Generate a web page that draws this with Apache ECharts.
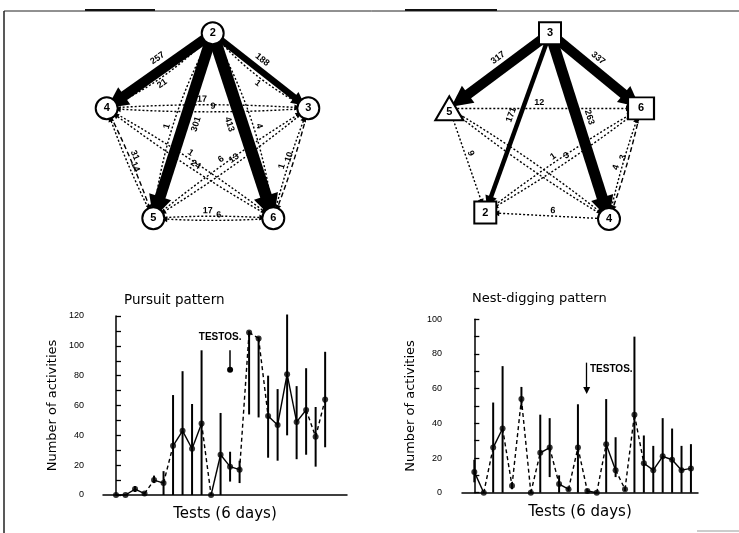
<!DOCTYPE html>
<html><head><meta charset="utf-8">
<script src="https://cdn.jsdelivr.net/npm/echarts@6/dist/echarts.min.js"></script>
<style>html,body{margin:0;padding:0;background:#fff}#c{width:739px;height:533px}</style>
</head><body><div id="c"></div>
<script>
// ---------------- Data ----------------
// Pursuit pattern (left lower chart)
const pursuitMean = [0,0,4,1,10,8,33,43,31,48,0,27,19,17,109,105,53,47,81,49,57,39,64];
const pursuitHigh = [0,0,6,2,13,16,67,83,61,97,0,55,29,23,110,106,80,71,121,73,85,59,96];
const pursuitLow  = [0,0,2,0,8,0,0,0,0,0,0,0,9,8,54,52,25,23,40,24,27,19,32];
// Nest-digging pattern (right lower chart)
const nestMean = [12,0,26,37,4,54,0,23,26,5,2,26,1,0,28,13,2,45,17,13,21,19,13,14];
const nestHigh = [19,0,52,73,6,61,0,45,43,10,3,51,2,0,54,32,3,90,33,27,43,37,27,28];
const nestLow  = [6,0,0,0,2,48,0,0,9,0,1,0,0,0,0,9,1,0,0,0,0,0,0,0];
// y tick labels
const pursuitTicks = [0,20,40,60,80,100,120];
const nestTicks = [0,20,40,60,80,100];
// Network diagrams: [from, to, count]
const pursuitNodes = ['2','4','3','5','6'];
const pursuitFlows = [
  ['2','4',257],['2','3',188],['2','5',301],['2','6',413],
  ['4','2',21],['3','2',1],['4','3',17],['3','4',9],['6','2',4],['5','2',1],
  ['4','6',1],['6','4',24],['3','5',13],['5','3',6],['4','5',31],['5','4',14],
  ['3','6',10],['6','3',1],['5','6',17],['6','5',6]
];
const diggingNodes = ['3','5','6','2','4'];
const diggingFlows = [
  ['3','5',317],['3','6',337],['3','2',171],['3','4',263],
  ['5','6',12],['5','2',9],['2','6',1],['6','2',3],['5','4',null],['4','5',null],
  ['4','6',4],['6','4',3],['4','2',6]
];

// ---------------- Layout / style config ----------------
const pursuitPos = {'2':[212.7,33.3],'4':[106.7,108.3],'3':[308.3,108.3],'5':[153.3,218.3],'6':[273.3,218.3]};
const diggingPos = {'3':[550,33.3],'5':[449.3,108.3],'6':[641,108.3],'2':[485.3,212.5],'4':[609,219]};
const diggingShape = {'3':'rect','5':'triangle','6':'rect','2':'rect','4':'circle'};
const diggingSize = {'3':[22,22],'5':[28,24],'6':[26,22],'2':[22,22],'4':[22,22]};
const pursuitThick = {'2-4':10,'2-3':6.5,'2-5':11,'2-6':12};
const diggingThick = {'3-5':10,'3-6':10,'3-2':4.5,'3-4':11};
const pursuitLongDash = ['4-5','3-6'];
const diggingLongDash = ['6-4'];
const pursuitPartnerSide = {'4-2':'in','3-2':'in','5-2':'out','6-2':'out'};
const pursuitLabelBelow = ['2-5','2-6','4-2','3-2'];
const pursuitDashedSeg = [3,5,9,13,14,15,20,21];
const nestDashedSeg = [1,3,4,5,6,8,10,11,13,15,16,17];

const FONT = 'Liberation Sans, Arial, sans-serif';
const FONT2 = 'DejaVu Sans, sans-serif';

function buildLinks(flows, pos, thick, longDash, partnerSide, labelBelow) {
  const names = Object.keys(pos);
  const cx = names.reduce((a,n)=>a+pos[n][0],0)/names.length;
  const cy = names.reduce((a,n)=>a+pos[n][1],0)/names.length;
  return flows.map(([s,t,v]) => {
    const key = s + '-' + t;
    const w = thick[key];
    const isThick = w != null;
    const rev = flows.some(f => f[0] === t && f[1] === s);
    let curv = 0;
    if (!isThick && rev) {
      const side = partnerSide && partnerSide[key];
      if (side) {
        const p1 = pos[s], p2 = pos[t];
        const ox = p2[1]-p1[1], oy = p1[0]-p2[0];
        const mx = (p1[0]+p2[0])/2, my = (p1[1]+p2[1])/2;
        const toward = ox*(cx-mx) + oy*(cy-my) > 0 ? 1 : -1;
        curv = 0.1 * (side === 'in' ? toward : -toward);
      } else {
        curv = 0.035;
      }
    }
    return {
      source: s, target: t, value: v,
      symbol: ['none','triangle'],
      symbolSize: isThick ? [1, Math.max(w * 2.1, 12)] : [1, 6],
      lineStyle: {
        color:'#000', opacity:1,
        width: isThick ? w : 1.4,
        type: isThick ? 'solid' : (longDash.includes(key) ? [5,3] : [2,2]),
        curveness: curv
      },
      label: {
        show: v != null,
        position: (labelBelow && labelBelow.includes(key)) ? 'insideMiddleBottom' : 'middle',
        formatter: v == null ? '' : String(v),
        distance: isThick ? w/2 + 2 : 1,
        fontSize: 9, fontWeight:'bold', color:'#000', fontFamily: FONT
      }
    };
  });
}
function buildGraph(nodes, pos, shape, size, flows, thick, longDash, partnerSide, labelBelow) {
  const xs = nodes.map(n => pos[n][0]), ys = nodes.map(n => pos[n][1]);
  const minX = Math.min(...xs), maxX = Math.max(...xs), minY = Math.min(...ys), maxY = Math.max(...ys);
  return {
    type:'graph', layout:'none', roam:false, silent:true,
    left:minX, top:minY, width:maxX-minX, height:maxY-minY,
    data: nodes.map(n => ({
      name:n, x:pos[n][0], y:pos[n][1],
      symbol: shape ? shape[n] : 'circle',
      symbolSize: size ? size[n] : 22,
      itemStyle:{color:'#fff', borderColor:'#000', borderWidth:2},
      label:{show:true, position:'inside', formatter:n, fontSize:11, fontWeight:'bold', color:'#000',
             fontFamily:FONT, offset: (shape && shape[n]==='triangle') ? [0,4] : [0,0]}
    })),
    links: buildLinks(flows, pos, thick, longDash, partnerSide, labelBelow),
    z: 3
  };
}

function errBarSeries(mean, low, high, gi) {
  return {
    type:'custom', xAxisIndex:gi, yAxisIndex:gi, silent:true,
    data: mean.map((m,i) => [i, low[i], high[i]]),
    encode:{x:0, y:[1,2]},
    renderItem: (params, api) => {
      const lo = api.value(1), hi = api.value(2);
      if (!(hi > lo)) return null;
      const p1 = api.coord([api.value(0), lo]), p2 = api.coord([api.value(0), hi]);
      return {type:'line', shape:{x1:p1[0],y1:p1[1],x2:p2[0],y2:p2[1]}, style:{stroke:'#000', lineWidth:2}};
    }
  };
}
function connectorSeries(mean, dashedSeg, gi) {
  const segs = [];
  for (let i = 0; i < mean.length - 1; i++) segs.push([i, mean[i], mean[i+1], dashedSeg.includes(i) ? 1 : 0]);
  return {
    type:'custom', xAxisIndex:gi, yAxisIndex:gi, silent:true,
    data: segs, encode:{x:0, y:[1,2]},
    renderItem: (params, api) => {
      const i = api.value(0);
      const p1 = api.coord([i, api.value(1)]), p2 = api.coord([i+1, api.value(2)]);
      return {type:'line', shape:{x1:p1[0],y1:p1[1],x2:p2[0],y2:p2[1]},
              style:{stroke:'#000', lineWidth:1.4, lineDash: api.value(3) ? [4,3] : null}};
    }
  };
}

const axisNameStyle = {fontSize:13, color:'#000', fontFamily:FONT2};
function yAxisCfg(gi, max, ticks, offset) {
  return {
    gridIndex:gi, type:'value', min:0, max:max, interval:20, offset:offset,
    axisLine:{show:true, lineStyle:{color:'#000', width:1.5}},
    axisTick:{show:true, inside:true, length:5, lineStyle:{color:'#000', width:1.3}},
    minorTick:{show:true, splitNumber:2, length:5, lineStyle:{color:'#000', width:1.3}},
    axisLabel:{fontSize:9, color:'#000', margin:6, fontFamily:FONT,
               formatter: v => ticks.includes(v) ? String(v) : ''},
    splitLine:{show:false},
    name:'Number of activities', nameLocation:'middle', nameGap:31, nameTextStyle:axisNameStyle
  };
}
function xAxisCfg(gi, min, max) {
  return {
    gridIndex:gi, type:'value', min:min, max:max,
    axisLine:{show:true, onZero:false, lineStyle:{color:'#000', width:1.5}},
    axisTick:{show:false}, axisLabel:{show:false}, splitLine:{show:false},
    name:'Tests (6 days)', nameLocation:'middle', nameGap:12,
    nameTextStyle:{fontSize:15, color:'#000', fontFamily:FONT2}
  };
}

const chart = echarts.init(document.getElementById('c'));
chart.setOption({
  animation:false,
  backgroundColor:'#fff',
  title:[
    {text:'Pursuit pattern', left:119, top:288, textStyle:{fontSize:13.5, fontWeight:'normal', color:'#000', fontFamily:FONT2}},
    {text:'Nest-digging pattern', left:467, top:287, textStyle:{fontSize:13, fontWeight:'normal', color:'#000', fontFamily:FONT2}}
  ],
  grid:[
    {left:103, width:244, top:316, height:179},
    {left:462, width:236, top:319.3, height:173.4}
  ],
  xAxis:[ xAxisCfg(0, -1.37, 24.3), xAxisCfg(1, -1.31, 23.75) ],
  yAxis:[ yAxisCfg(0, 120, pursuitTicks, 13), yAxisCfg(1, 100, nestTicks, 14) ],
  graphic:[
    {type:'line', shape:{x1:4, y1:11, x2:739, y2:11}, style:{stroke:'#222', lineWidth:1}},
    {type:'line', shape:{x1:85, y1:10, x2:155, y2:10}, style:{stroke:'#111', lineWidth:2}},
    {type:'line', shape:{x1:405, y1:10, x2:497, y2:10}, style:{stroke:'#111', lineWidth:2}},
    {type:'line', shape:{x1:4, y1:11, x2:4, y2:533}, style:{stroke:'#222', lineWidth:1.5}},
    {type:'line', shape:{x1:697, y1:531, x2:739, y2:531}, style:{stroke:'#bbb', lineWidth:1.5}}
  ],
  series:[
    buildGraph(pursuitNodes, pursuitPos, null, null, pursuitFlows, pursuitThick, pursuitLongDash, pursuitPartnerSide, pursuitLabelBelow),
    buildGraph(diggingNodes, diggingPos, diggingShape, diggingSize, diggingFlows, diggingThick, diggingLongDash, null, null),
    errBarSeries(pursuitMean, pursuitLow, pursuitHigh, 0),
    connectorSeries(pursuitMean, pursuitDashedSeg, 0),
    {
      type:'scatter', xAxisIndex:0, yAxisIndex:0, symbolSize:6, silent:true,
      itemStyle:{color:'#000'},
      data: pursuitMean.map((m,i) => [i, m]),
      markLine:{silent:true, symbol:['none','circle'], symbolSize:6,
        lineStyle:{color:'#000', width:1.5, type:'solid'}, label:{show:false},
        data:[[{coord:[12,97]},{coord:[12,84]}]]},
      markPoint:{silent:true, data:[{coord:[10.95,106], symbol:'rect', symbolSize:0,
        label:{show:true, position:'inside', formatter:'TESTOS.', fontSize:10, fontWeight:'bold', color:'#000', fontFamily:FONT}}]}
    },
    errBarSeries(nestMean, nestLow, nestHigh, 1),
    connectorSeries(nestMean, nestDashedSeg, 1),
    {
      type:'scatter', xAxisIndex:1, yAxisIndex:1, symbolSize:6, silent:true,
      itemStyle:{color:'#000'},
      data: nestMean.map((m,i) => [i, m]),
      markLine:{silent:true, symbol:['none','triangle'], symbolSize:7,
        lineStyle:{color:'#000', width:1.3, type:'solid'}, label:{show:false},
        data:[[{coord:[11.93,75]},{coord:[11.93,59]}]]},
      markPoint:{silent:true, data:[{coord:[12.28,71.3], symbol:'rect', symbolSize:0,
        label:{show:true, position:'right', distance:0, formatter:'TESTOS.', fontSize:10, fontWeight:'bold', color:'#000', fontFamily:FONT}}]}
    }
  ]
});
</script>
</body></html>
